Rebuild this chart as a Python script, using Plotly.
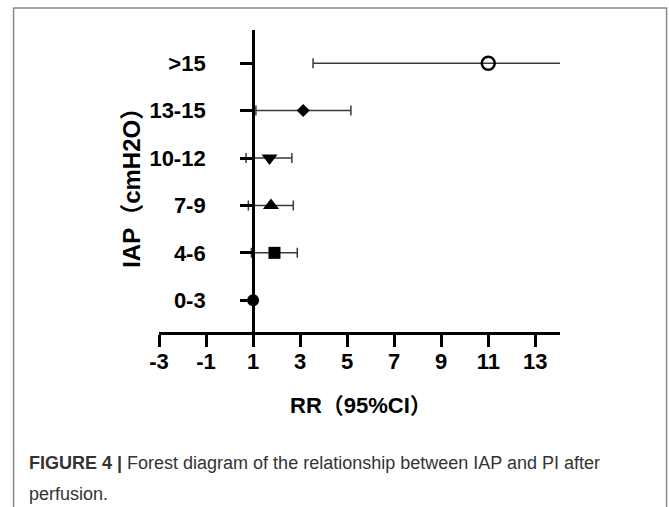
import plotly.graph_objects as go

# ---- data ----
categories = ["0-3", "4-6", "7-9", "10-12", "13-15", ">15"]
rr = [1.0, 1.91, 1.76, 1.70, 3.13, 11.0]
ci_low = [0.95, 0.93, 0.80, 0.70, 1.12, 3.55]
ci_high = [1.05, 2.88, 2.71, 2.65, 5.16, 14.3]
symbols = ["circle", "square", "triangle-up", "triangle-down", "diamond", "circle-open"]
sizes = [12, 12, 14, 14, 10, 13]
x_ticks = [-3, -1, 1, 3, 5, 7, 9, 11, 13]
x_tick_labels = ["-3", "-1", "1", "3", "5", "7", "9", "11", "13"]
x_title = "RR（95%CI）"
y_title = "IAP（cmH2O）"
caption_1 = "<b>FIGURE 4 |</b> Forest diagram of the relationship between IAP and PI after"
caption_2 = "perfusion."

# ---- layout geometry ----
W, H = 669, 507
ML, MR, MT, MB = 159.3, 109, 30, 175.3
PW, PH = W - ML - MR, H - MT - MB
X_RANGE = [-3, 14.05]
Y_RANGE = [-0.67, 5.7]


def px_x(p):
    return (p - ML) / PW


def px_y(p):
    return (H - MB - p) / PH


FONT = "Liberation Sans, Arial, Noto Sans CJK SC, sans-serif"
CAP_FONT = "Liberation Sans, Arial, sans-serif"

fig = go.Figure()
fig.add_trace(go.Scatter(
    x=rr,
    y=categories,
    mode="markers",
    marker=dict(
        symbol=symbols,
        size=sizes,
        color="black",
        opacity=1,
        line=dict(color="black", width=[0, 0, 0, 0, 0, 2.5]),
    ),
    error_x=dict(
        type="data",
        symmetric=False,
        array=[h - v for h, v in zip(ci_high, rr)],
        arrayminus=[v - l for v, l in zip(rr, ci_low)],
        color="#3a3a3a",
        thickness=1.5,
        width=5,
    ),
    showlegend=False,
))

y_pos = (1 - X_RANGE[0]) / (X_RANGE[1] - X_RANGE[0])

fig.update_layout(
    width=W, height=H, autosize=False,
    margin=dict(l=ML, r=MR, t=MT, b=MB, pad=0),
    paper_bgcolor="white", plot_bgcolor="white",
    font=dict(family=FONT, color="black"),
    xaxis=dict(
        range=X_RANGE, tickvals=x_ticks, ticktext=x_tick_labels,
        showline=True, linecolor="black", linewidth=3,
        ticks="outside", ticklen=12, tickwidth=2.5, tickcolor="black",
        tickfont=dict(size=22, family=FONT, weight="bold"),
        showgrid=False, zeroline=False,
        ticklabelstandoff=-4,
    ),
    yaxis=dict(
        type="category", categoryorder="array", categoryarray=categories,
        range=Y_RANGE,
        anchor="free", position=y_pos,
        showline=True, linecolor="black", linewidth=3,
        ticks="outside", ticklen=12, tickwidth=2.5, tickcolor="black",
        tickfont=dict(size=22, family=FONT, weight="bold"),
        showgrid=False, zeroline=False,
        ticklabelstandoff=30,
    ),
    shapes=[dict(
        type="rect", xref="paper", yref="paper",
        x0=px_x(14), x1=px_x(666.5), y0=px_y(530), y1=px_y(8),
        line=dict(color="#8a8a8a", width=1.5), fillcolor="rgba(0,0,0,0)",
        layer="below",
    )],
    annotations=[
        dict(text=y_title, textangle=-90, xref="paper", yref="paper",
             x=px_x(131), y=px_y(182), xanchor="center", yanchor="middle",
             showarrow=False, font=dict(size=24, family=FONT, weight="bold")),
        dict(text=x_title, xref="paper", yref="paper",
             x=px_x(361), y=px_y(405), xanchor="center", yanchor="middle",
             showarrow=False, font=dict(size=22, family=FONT, weight="bold")),
        dict(text=caption_1, xref="paper", yref="paper",
             x=px_x(27), y=px_y(463), xanchor="left", yanchor="middle",
             showarrow=False, font=dict(size=18, family=CAP_FONT, color="#333333")),
        dict(text=caption_2, xref="paper", yref="paper",
             x=px_x(27), y=px_y(494), xanchor="left", yanchor="middle",
             showarrow=False, font=dict(size=18, family=CAP_FONT, color="#333333")),
    ],
)

fig.write_html("out.html", config={"displayModeBar": False},
               post_script="document.body.style.margin='0';")
